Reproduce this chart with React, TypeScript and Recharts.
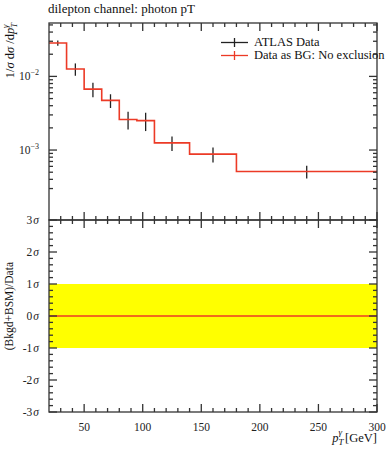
import React from 'react';
import {
  ComposedChart,
  Line,
  Scatter,
  ErrorBar,
  XAxis,
  YAxis,
  ReferenceArea,
  Legend,
} from 'recharts';

// histogram bins of photon pT [GeV]
const binEdges = [20, 35, 50, 65, 80, 95, 110, 140, 180, 300];
const binValues = [0.0284, 0.0126, 0.00672, 0.00472, 0.0026, 0.00251, 0.00125, 0.00088, 0.000512];
const binErrors = [0.0023, 0.0024, 0.0015, 0.001, 0.0007, 0.0007, 0.00028, 0.0002, 0.0001];
const ratioValues = [0, 0, 0, 0, 0, 0, 0, 0, 0];

const xMajor = [50, 100, 150, 200, 250, 300];
const xTicks = [30, 40, 50, 60, 70, 80, 90, 100, 110, 120, 130, 140, 150, 160, 170, 180, 190, 200, 210, 220, 230, 240, 250, 260, 270, 280, 290, 300];
const yLogMajor = [0.01, 0.001];
const yLogTicks = [
  0.0003, 0.0004, 0.0005, 0.0006, 0.0007, 0.0008, 0.0009,
  0.001, 0.002, 0.003, 0.004, 0.005, 0.006, 0.007, 0.008, 0.009,
  0.01, 0.02, 0.03, 0.04, 0.05,
];
const logLabels: Record<string, string> = { '0.01': '2', '0.001': '3' };
const sigmaMajor = [-3, -2, -1, 0, 1, 2, 3];
const sigmaTicks = [
  -3, -2.8, -2.6, -2.4, -2.2, -2, -1.8, -1.6, -1.4, -1.2, -1, -0.8, -0.6, -0.4, -0.2,
  0, 0.2, 0.4, 0.6, 0.8, 1, 1.2, 1.4, 1.6, 1.8, 2, 2.2, 2.4, 2.6, 2.8, 3,
];
const xDomain = [20, 300];
const yLogDomain = [0.000253, 0.0531];
const sigmaDomain = [-3, 3];

const FONT = '"Liberation Serif", "DejaVu Serif", serif';
const RED = '#ec3a26';
const FRAME = '#333';
const FW = 1.3;

// layout
const W = 389;
const M_LEFT = 49;
const M_RIGHT = 12;
const PLOT_L = M_LEFT;
const PLOT_R = W - M_RIGHT;
const TOP_H = 222;
const TOP_M = { top: 23, right: M_RIGHT, bottom: 1, left: 0 };
const TOP_XAXIS_H = 1;
const TOP_BOX = { top: TOP_M.top, bottom: TOP_H - TOP_M.bottom - TOP_XAXIS_H };
const BOT_H = 250;
const BOT_M = { top: 20, right: M_RIGHT, bottom: 18, left: 0 };
const BOT_XAXIS_H = 20;
const BOT_BOX = { top: BOT_M.top, bottom: BOT_H - BOT_M.bottom - BOT_XAXIS_H };

const stepData = binEdges.map((x, i) => ({ x, y: binValues[Math.min(i, binValues.length - 1)] }));
const pointData = binValues.map((y, i) => ({
  x: (binEdges[i] + binEdges[i + 1]) / 2,
  y,
  err: binErrors[i],
}));
const ratioStep = binEdges.map((x, i) => ({ x, r: ratioValues[Math.min(i, ratioValues.length - 1)] }));

const isMajor = (v: number, majors: number[]) => majors.some((m) => Math.abs(m - v) < 1e-9);

// tick x comes from the recharts scale; ticks point inward on both edges
const XTick = (box: { top: number; bottom: number }, labels: boolean) => (props: any) => {
  const { x, payload } = props;
  const major = isMajor(payload.value, xMajor);
  const len = major ? 8 : 4;
  return (
    <g>
      <line x1={x} x2={x} y1={box.bottom} y2={box.bottom - len} stroke={FRAME} strokeWidth={FW} />
      <line x1={x} x2={x} y1={box.top} y2={box.top + len} stroke={FRAME} strokeWidth={FW} />
      {labels && major && (
        <text x={x} y={box.bottom + 19} textAnchor="middle" fontSize={11.5} fontFamily={FONT} fill="#222">
          {payload.value}
        </text>
      )}
    </g>
  );
};

// tick y comes from the recharts scale; the first tick also draws the plot frame
const YTick = (
  box: { top: number; bottom: number },
  majors: number[],
  label: (v: number) => React.ReactNode,
) => (props: any) => {
  const { y, payload, index } = props;
  const major = isMajor(payload.value, majors);
  const len = major ? 8 : 4;
  return (
    <g>
      {index === 0 && (
        <rect x={PLOT_L} y={box.top} width={PLOT_R - PLOT_L} height={box.bottom - box.top}
          fill="none" stroke={FRAME} strokeWidth={FW} />
      )}
      <line x1={PLOT_L} x2={PLOT_L + len} y1={y} y2={y} stroke={FRAME} strokeWidth={FW} />
      <line x1={PLOT_R} x2={PLOT_R - len} y1={y} y2={y} stroke={FRAME} strokeWidth={FW} />
      {major && (
        <text x={PLOT_L - 10} y={y + 4} textAnchor="end" fontSize={11.5} fontFamily={FONT} fill="#222">
          {label(payload.value)}
        </text>
      )}
    </g>
  );
};

const logLabel = (v: number) => (
  <>
    10
    <tspan dy={-5} fontSize={8}>
      {'\u2212' + logLabels[String(v)]}
    </tspan>
  </>
);

const sigmaLabel = (v: number) => (
  <>
    {v < 0 ? '-' + Math.abs(v) : v}
    <tspan fontStyle="italic" dx={1}>σ</tspan>
  </>
);

const LegendContent = () => (
  <div style={{ fontFamily: FONT, fontSize: 12.5, color: '#111', lineHeight: '13px' }}>
    {[
      { name: 'ATLAS Data', color: '#222' },
      { name: 'Data as BG: No exclusion', color: RED },
    ].map((item) => (
      <div key={item.name} style={{ display: 'flex', alignItems: 'center', whiteSpace: 'nowrap' }}>
        <svg width={34} height={13}>
          <line x1={1} x2={28} y1={6.5} y2={6.5} stroke={item.color} strokeWidth={1.3} />
          <line x1={14.5} x2={14.5} y1={2} y2={11} stroke={item.color} strokeWidth={1.3} />
        </svg>
        <span>{item.name}</span>
      </div>
    ))}
  </div>
);

const NoDot = () => <g />;

export default function App() {
  return (
    <div style={{ position: 'absolute', left: 0, top: 0, width: 389, height: 450, background: '#fff' }}>
      <div style={{ position: 'absolute', left: 0, top: 0 }}>
        <ComposedChart width={W} height={TOP_H} margin={TOP_M}>
          <XAxis xAxisId="x" dataKey="x" type="number" domain={xDomain} ticks={xTicks} allowDataOverflow
            height={TOP_XAXIS_H} tickSize={0} tickMargin={0} tickLine={false} axisLine={false}
            tick={XTick(TOP_BOX, false)} interval={0} />
          <YAxis yAxisId="y" dataKey="y" scale="log" type="number" domain={yLogDomain} ticks={yLogTicks}
            allowDataOverflow width={M_LEFT} tickSize={0} tickMargin={0} tickLine={false} axisLine={false}
            tick={YTick(TOP_BOX, yLogMajor, logLabel)} interval={0} />
          <Scatter xAxisId="x" yAxisId="y" data={pointData} dataKey="y" shape={NoDot} isAnimationActive={false}>
            <ErrorBar dataKey="err" direction="y" width={0} stroke="#222" strokeWidth={1.3} isAnimationActive={false} />
          </Scatter>
          <Line xAxisId="x" yAxisId="y" data={stepData} dataKey="y" type="stepAfter" stroke={RED}
            strokeWidth={1.6} dot={false} isAnimationActive={false} />
          <Legend content={LegendContent} wrapperStyle={{ left: 220, top: 36, width: 170 }} />
          <text x={48} y={13} fontSize={13} fontFamily={FONT} fill="#111">
            dilepton channel: photon pT
          </text>
          <text transform="translate(14,23) rotate(-90)" textAnchor="end" fontSize={12.5} fontFamily={FONT} fill="#111">
            1/<tspan fontStyle="italic">σ</tspan> d<tspan fontStyle="italic">σ</tspan> /d
            <tspan fontStyle="italic">p</tspan>
            <tspan fontStyle="italic" fontSize={8.5} dy={2.5}>T</tspan>
            <tspan fontStyle="italic" fontSize={8.5} dx={-5} dy={-8.5}>γ</tspan>
          </text>
        </ComposedChart>
      </div>
      <div style={{ position: 'absolute', left: 0, top: 200 }}>
        <ComposedChart width={W} height={BOT_H} margin={BOT_M}>
          <XAxis xAxisId="x" dataKey="x" type="number" domain={xDomain} ticks={xTicks} allowDataOverflow
            height={BOT_XAXIS_H} tickSize={0} tickMargin={0} tickLine={false} axisLine={false}
            tick={XTick(BOT_BOX, true)} interval={0} />
          <YAxis yAxisId="y" type="number" domain={sigmaDomain} ticks={sigmaTicks} allowDataOverflow width={M_LEFT}
            tickSize={0} tickMargin={0} tickLine={false} axisLine={false}
            tick={YTick(BOT_BOX, sigmaMajor, sigmaLabel)} interval={0} />
          <ReferenceArea xAxisId="x" yAxisId="y" x1={20} x2={300} y1={-1} y2={1} fill="#ffff00" fillOpacity={1} stroke="none" />
          <Line xAxisId="x" yAxisId="y" data={ratioStep} dataKey="r" type="stepAfter" stroke={RED}
            strokeWidth={1.6} dot={false} isAnimationActive={false} />
          <text transform="translate(13,62) rotate(-90)" textAnchor="end" fontSize={11.5} fontFamily={FONT} fill="#111">
            (Bkgd+BSM)/Data
          </text>
          <text x={377} y={242} textAnchor="end" fontSize={12.5} fontFamily={FONT} fill="#111">
            <tspan fontStyle="italic">p</tspan>
            <tspan fontStyle="italic" fontSize={9} dy={3}>T</tspan>
            <tspan fontStyle="italic" fontSize={9} dx={-5} dy={-10}>γ</tspan>
            <tspan dx={3} dy={7}>[GeV]</tspan>
          </text>
        </ComposedChart>
      </div>
    </div>
  );
}
